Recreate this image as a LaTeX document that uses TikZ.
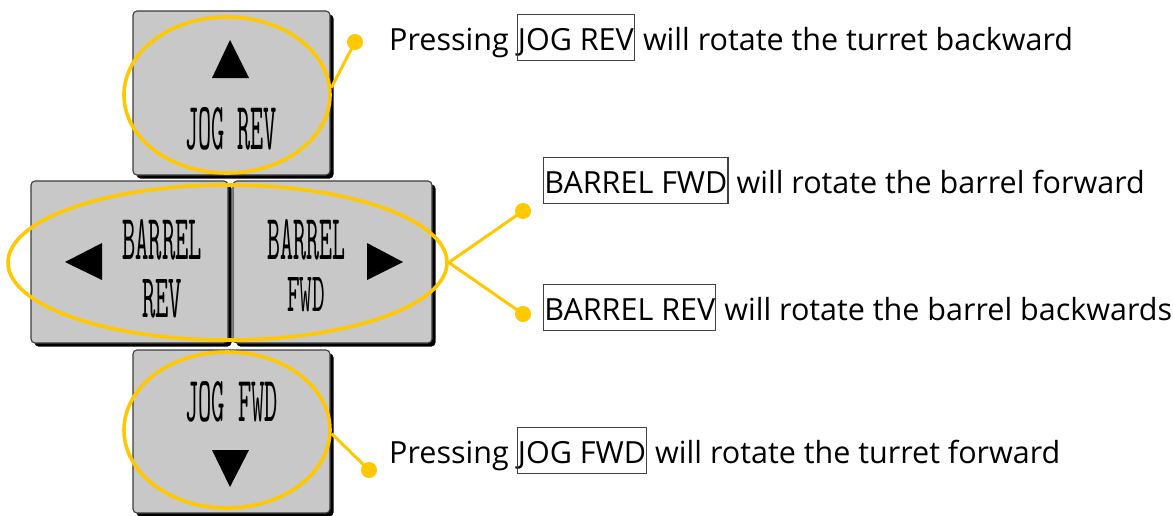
\documentclass[tikz,border=0pt]{standalone}
\usepackage{fontspec}
\setmainfont{Open Sans}
\usetikzlibrary{shapes.geometric,shadows}

\definecolor{keygray}{HTML}{C8C8C8}
\definecolor{edgegray}{HTML}{3C3C3C}
\definecolor{marker}{HTML}{FFC800}
\definecolor{framegray}{HTML}{404040}

% framed key name inside a sentence
\newcommand\keyname[1]{{\setlength\fboxsep{0pt}\setlength\fboxrule{1.2pt}%
  \fcolorbox{framegray}{white}{\rule[-10pt]{0pt}{45pt}#1}}}

\tikzset{
  keycap/.style={draw=edgegray, line width=1.1pt, fill=keygray,
    rounded corners=4pt, inner sep=0pt,
    drop shadow={shadow xshift=3.5pt, shadow yshift=-3.5pt, fill=black, opacity=1}},
  keylabel/.style={inner sep=0pt},
  halo/.style={ellipse, draw=marker, line width=3.6pt, inner sep=0pt},
  dot/.style={circle, fill=marker, inner sep=0pt, minimum size=16pt},
  lead/.style={draw=marker, line width=3pt},
  note/.style={inner sep=0pt, anchor=base west, font=\fontsize{30.5}{36}\selectfont},
  arrowhead/.style={fill=black}
}

\begin{document}
\begin{tikzpicture}[x=1pt, y=-1pt]
\useasboundingbox (0,0) rectangle (1173,515);

% the four jog keys
\node[keycap, minimum width=197pt, minimum height=164pt] (kup) at (231.5,93) {};
\node[keycap, minimum width=197pt, minimum height=162pt] (kleft) at (129.5,262) {};
\node[keycap, minimum width=199pt, minimum height=162pt] (kright) at (332.5,262) {};
\node[keycap, minimum width=197pt, minimum height=163pt] (kdown) at (231.5,431.5) {};

% arrow glyphs on the keys
\fill[arrowhead] (230,40) -- (249,78) -- (212,78) -- cycle;
\fill[arrowhead] (65,262) -- (102,243) -- (102,280) -- cycle;
\fill[arrowhead] (403,262) -- (367,243) -- (367,280) -- cycle;
\fill[arrowhead] (212,450) -- (249,450) -- (230,487) -- cycle;

% key captions
\node[keylabel] (lup) at (231,129) {\resizebox{92pt}{42pt}{\ttfamily JOG REV}};
\node[keylabel] (lleft1) at (162,240) {\resizebox{80pt}{40pt}{\ttfamily BARREL}};
\node[keylabel] (lleft2) at (162,299) {\resizebox{40pt}{38pt}{\ttfamily REV}};
\node[keylabel] (lright1) at (306,240) {\resizebox{78pt}{40pt}{\ttfamily BARREL}};
\node[keylabel] (lright2) at (306,295) {\resizebox{38pt}{34pt}{\ttfamily FWD}};
\node[keylabel] (ldown) at (231.5,402) {\resizebox{93pt}{40pt}{\ttfamily JOG FWD}};

% highlight rings
\node[halo, minimum width=206pt, minimum height=156pt] (eup) at (227,95) {};
\node[halo, minimum width=439pt, minimum height=155pt] (emid) at (227.5,262.5) {};
\node[halo, minimum width=206pt, minimum height=156pt] (edown) at (227,430) {};

% callout dots
\node[dot] (dup) at (355,42) {};
\node[dot] (dfwd) at (523,211) {};
\node[dot] (drev) at (523,314) {};
\node[dot] (ddown) at (369,470) {};

% leader lines
\draw[lead] (eup.4) -- (dup.center);
\draw[lead] (emid.east) -- (dfwd.center);
\draw[lead] (emid.east) -- (drev.center);
\draw[lead] (edown.-2) -- (ddown.center);

% explanations
\node[note] (nup) at (389,50) {Pressing \keyname{JOG REV} will rotate the turret backward};
\node[note] (nfwd) at (543,193) {\keyname{BARREL FWD} will rotate the barrel forward};
\node[note] (nrev) at (543,320) {\keyname{BARREL REV} will rotate the barrel backwards};
\node[note] (ndown) at (389,463) {Pressing \keyname{JOG FWD} will rotate the turret forward};
\end{tikzpicture}
\end{document}
